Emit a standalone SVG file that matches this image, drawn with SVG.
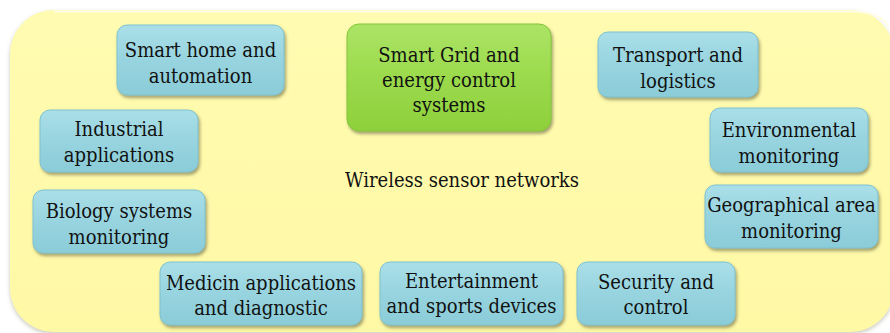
<svg xmlns="http://www.w3.org/2000/svg" width="890" height="333" viewBox="0 0 890 333">
  <defs>
    <linearGradient id="gBlue" x1="0" y1="0" x2="0" y2="1">
      <stop offset="0" stop-color="#aadfe8"/>
      <stop offset="0.5" stop-color="#97d4df"/>
      <stop offset="1" stop-color="#8accd8"/>
    </linearGradient>
    <linearGradient id="gGreen" x1="0" y1="0" x2="0" y2="1">
      <stop offset="0" stop-color="#ace466"/>
      <stop offset="0.5" stop-color="#9bda4c"/>
      <stop offset="1" stop-color="#8ed03c"/>
    </linearGradient>
    <linearGradient id="gBack" x1="0" y1="0" x2="0" y2="1">
      <stop offset="0" stop-color="#fffbb0"/>
      <stop offset="1" stop-color="#fff9a6"/>
    </linearGradient>
    <filter id="shadow" x="-10%" y="-10%" width="125%" height="135%">
      <feDropShadow dx="1.5" dy="2.5" stdDeviation="1.8" flood-color="#5a5a3a" flood-opacity="0.55"/>
    </filter>
    <filter id="backShadow" x="-5%" y="-5%" width="110%" height="115%">
      <feDropShadow dx="0" dy="2" stdDeviation="2" flood-color="#8a8a70" flood-opacity="0.45"/>
    </filter>
  </defs>
  <style>
    .box { fill: url(#gBlue); stroke: #7fc2cf; stroke-width: 1; filter: url(#shadow); }
    .main { fill: url(#gGreen); stroke: #84c63a; stroke-width: 1; filter: url(#shadow); }
    .lbl { font-family: "DejaVu Serif Condensed", "DejaVu Serif", serif; font-stretch: condensed; font-size: 20px; fill: #111; text-anchor: middle; }
  </style>

  <rect width="890" height="333" fill="#ffffff"/>

  <!-- background panel -->
  <g id="panel">
    <rect x="10" y="10" width="884" height="322" rx="44" fill="url(#gBack)" filter="url(#backShadow)"/>
    <path d="M54 11.5 H850 Q880 11.5 888 26" fill="none" stroke="#fffde6" stroke-width="2"/>
    <text class="lbl" x="462" y="187">Wireless sensor networks</text>
  </g>

  <!-- connectors: none drawn -->
  <g id="connectors"/>

  <g id="smart-home">
    <rect class="box" x="117" y="25" width="167" height="70" rx="10"/>
    <text class="lbl" x="200.5" y="57">Smart home and</text>
    <text class="lbl" x="200.5" y="83">automation</text>
  </g>

  <g id="industrial">
    <rect class="box" x="40" y="110" width="158" height="62" rx="10"/>
    <text class="lbl" x="119" y="136">Industrial</text>
    <text class="lbl" x="119" y="162">applications</text>
  </g>

  <g id="smart-grid">
    <rect class="main" x="347" y="24" width="204" height="107" rx="12"/>
    <text class="lbl" x="449" y="62">Smart Grid and</text>
    <text class="lbl" x="449" y="87">energy control</text>
    <text class="lbl" x="449" y="112">systems</text>
  </g>

  <g id="transport">
    <rect class="box" x="598" y="32" width="160" height="65" rx="10"/>
    <text class="lbl" x="678" y="62">Transport and</text>
    <text class="lbl" x="678" y="88">logistics</text>
  </g>

  <g id="environmental">
    <rect class="box" x="710" y="108" width="158" height="64" rx="10"/>
    <text class="lbl" x="789" y="137">Environmental</text>
    <text class="lbl" x="789" y="163">monitoring</text>
  </g>

  <g id="biology">
    <rect class="box" x="33" y="190" width="172" height="63" rx="10"/>
    <text class="lbl" x="119" y="218">Biology systems</text>
    <text class="lbl" x="119" y="244">monitoring</text>
  </g>

  <g id="geographical">
    <rect class="box" x="705" y="185" width="173" height="63" rx="10"/>
    <text class="lbl" x="791.5" y="212">Geographical area</text>
    <text class="lbl" x="791.5" y="238">monitoring</text>
  </g>

  <g id="medicin">
    <rect class="box" x="160" y="262" width="202" height="63" rx="10"/>
    <text class="lbl" x="261" y="290">Medicin applications</text>
    <text class="lbl" x="261" y="315">and diagnostic</text>
  </g>

  <g id="entertainment">
    <rect class="box" x="380" y="262" width="183" height="63" rx="10"/>
    <text class="lbl" x="471.5" y="288">Entertainment</text>
    <text class="lbl" x="471.5" y="313">and sports devices</text>
  </g>

  <g id="security">
    <rect class="box" x="577" y="262" width="158" height="63" rx="10"/>
    <text class="lbl" x="656" y="289">Security and</text>
    <text class="lbl" x="656" y="314">control</text>
  </g>
</svg>
